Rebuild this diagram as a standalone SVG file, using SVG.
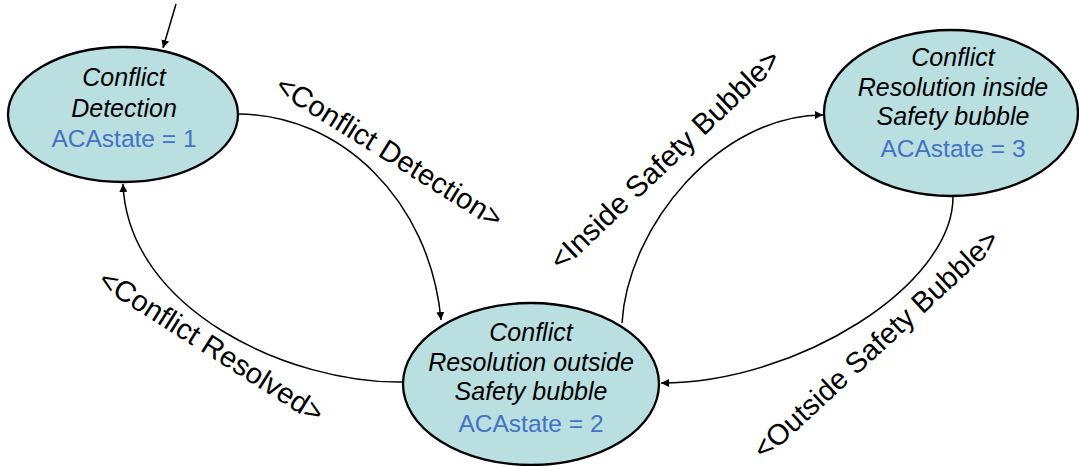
<svg xmlns="http://www.w3.org/2000/svg" width="1079" height="466" viewBox="0 0 1079 466">
  <style>
    .state { fill: #b9dfe0; stroke: #000; stroke-width: 2.3; }
    .name { font-family: "Liberation Sans", Arial, sans-serif; font-size: 25px; font-style: italic; fill: #000; text-anchor: middle; }
    .acs { font-family: "Liberation Sans", Arial, sans-serif; font-size: 24.5px; fill: #4472c4; text-anchor: middle; }
    .edge { fill: none; stroke: #000; stroke-width: 1.5; marker-end: url(#arrow); }
    .lbl { font-family: "Liberation Sans", Arial, sans-serif; font-size: 29px; fill: #000; text-anchor: middle; }
  </style>
  <defs>
    <marker id="arrow" viewBox="0 0 10 10" refX="10" refY="5" markerWidth="8" markerHeight="8" markerUnits="userSpaceOnUse" orient="auto">
      <path d="M0,0 L10,5 L0,10 Z" fill="#000"/>
    </marker>
  </defs>

  <rect width="1079" height="466" fill="#fff"/>

  <!-- transitions -->
  <g id="connectors">
    <path class="edge" d="M176,4 L163,48"/>
    <path class="edge" d="M238,114 C340,114 430,200 441,320"/>
    <path class="edge" d="M403,382 C290,384 128,310 123,184"/>
    <path class="edge" d="M622,323 C628,225 720,115 823,115"/>
    <path class="edge" d="M953,197 C953,285 798,383 661,383"/>
  </g>

  <g id="labels">
    <g transform="translate(389.5,151.5) rotate(32)"><text class="lbl" x="0" y="10">&lt;Conflict Detection&gt;</text></g>
    <g transform="translate(211.5,346) rotate(32.4)"><text class="lbl" x="0" y="10">&lt;Conflict Resolved&gt;</text></g>
    <g transform="translate(665,159.5) rotate(-43.5)"><text class="lbl" x="0" y="10" style="font-size:29.5px">&lt;Inside Safety Bubble&gt;</text></g>
    <g transform="translate(876,344) rotate(-42.7)"><text class="lbl" x="0" y="10">&lt;Outside Safety Bubble&gt;</text></g>
  </g>

  <g id="state1">
    <ellipse class="state" cx="123" cy="114.5" rx="115" ry="67.5"/>
    <text class="name" x="124" y="86">Conflict</text>
    <text class="name" x="124" y="117">Detection</text>
    <text class="acs" x="124" y="147">ACAstate = 1</text>
  </g>

  <g id="state2">
    <ellipse class="state" cx="531" cy="384" rx="128" ry="81"/>
    <text class="name" x="531" y="341">Conflict</text>
    <text class="name" x="531" y="371">Resolution outside</text>
    <text class="name" x="531" y="400">Safety bubble</text>
    <text class="acs" x="531" y="432">ACAstate = 2</text>
  </g>

  <g id="state3">
    <ellipse class="state" cx="951" cy="113" rx="127" ry="83"/>
    <text class="name" x="953" y="66">Conflict</text>
    <text class="name" x="953" y="96">Resolution inside</text>
    <text class="name" x="953" y="125">Safety bubble</text>
    <text class="acs" x="953" y="157">ACAstate = 3</text>
  </g>
</svg>
